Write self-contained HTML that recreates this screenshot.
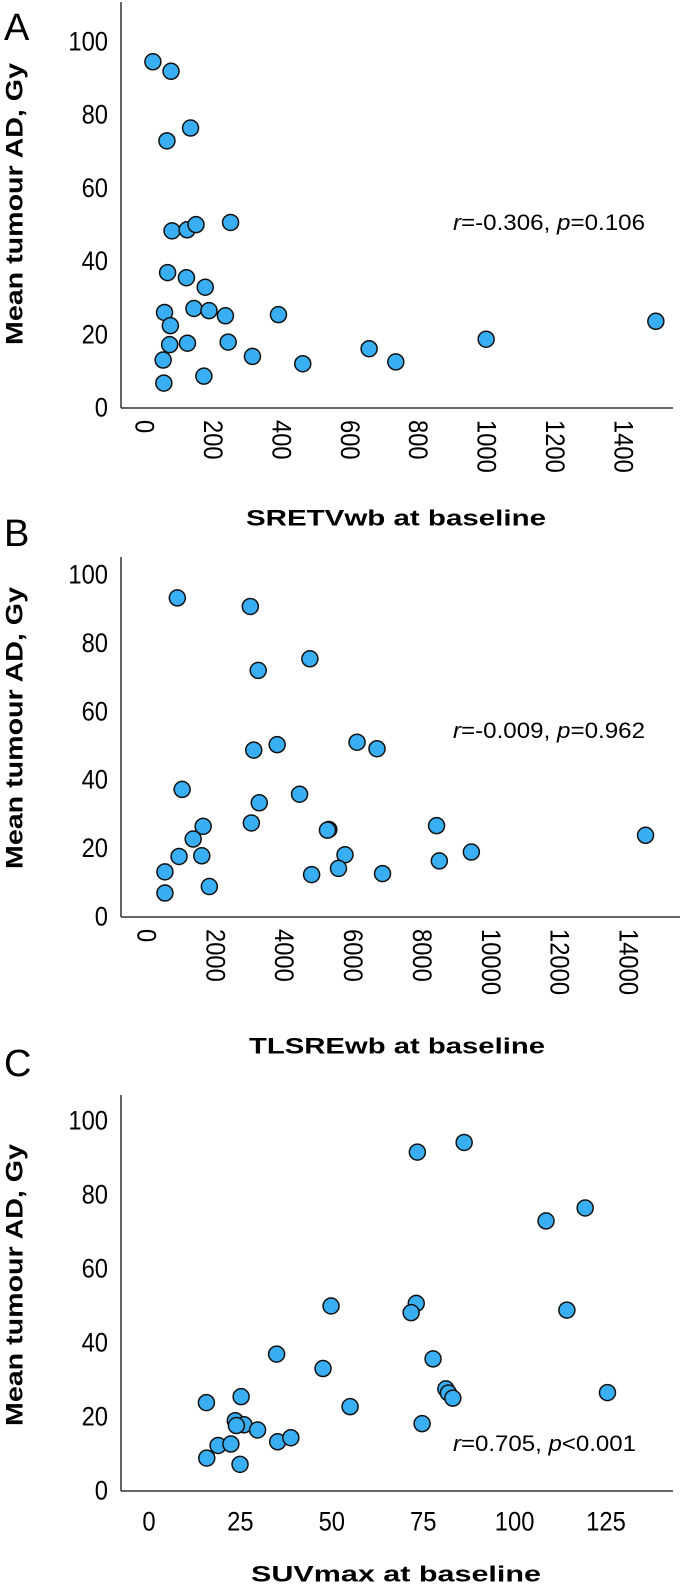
<!DOCTYPE html>
<html><head><meta charset="utf-8"><style>html,body{margin:0;padding:0;background:#fff}svg{display:block}</style></head>
<body>
<svg id="chart" width="685" height="1592" viewBox="0 0 685 1592" xmlns="http://www.w3.org/2000/svg" font-family="'Liberation Sans', sans-serif"></svg>
<script>
const yTicks = [0,20,40,60,80,100];
const aTicks = [0,200,400,600,800,1000,1200,1400];
const bTicks = [0,2000,4000,6000,8000,10000,12000,14000];
const cTicks = [0,25,50,75,100,125];
const aX = [26,79,67,136,82,126,152,253,69,124,179,60,77,146,190,238,393,75,127,246,56,58,175,317,464,658,736,1000,1496];
const aY = [94.6,92,73,76.5,48.4,48.7,50.1,50.7,37,35.6,33,26.1,22.5,27.2,26.6,25.2,25.5,17.3,17.7,18,13.1,6.8,8.7,14.1,12.1,16.2,12.6,18.8,23.7];
const bX = [910,3030,3260,4760,3130,3810,6130,6710,1050,4460,3290,3060,1660,8440,1370,5310,5270,960,1620,5780,9450,14510,550,550,1840,4810,5590,6870,8520];
const bY = [93.3,90.8,72.1,75.5,48.8,50.4,51.1,49.2,37.3,35.9,33.4,27.5,26.5,26.7,22.8,25.6,25.4,17.7,17.9,18.2,19,23.9,13.2,7,8.9,12.4,14.2,12.7,16.4];
const cX = [86.2,73.4,108.6,119.3,49.8,73.1,71.7,114.3,34.9,47.6,77.7,81.2,81.9,83.1,125.4,25.2,15.7,55,74.7,23.6,26,23.9,29.7,35.2,38.8,18.9,22.4,15.8,24.9];
const cY = [94.2,91.6,73,76.5,50,50.7,48.2,48.9,37,33.1,35.7,27.6,26.5,25.1,26.6,25.5,23.9,22.8,18.2,19,17.9,17.7,16.5,13.3,14.4,12.3,12.7,8.9,7.2];

const NS='http://www.w3.org/2000/svg';
const svg=document.getElementById('chart');
function mk(tag,attrs,parent,text){const e=document.createElementNS(NS,tag);for(const k in attrs)e.setAttribute(k,attrs[k]);if(text!==undefined)e.textContent=text;(parent||svg).appendChild(e);return e;}

function panel(o){
  const g=mk('g',{});
  
  
  const yS=v=>o.y0-(v/100)*(o.y0-o.y100);
  const xS=v=>o.x0+(v/o.xMax)*(o.x1-o.x0);
  const L=mk('text',{x:o.letterX,y:o.letterY,'font-size':38},g,o.letter);
  
  
  const ya=mk('line',{x1:121,y1:o.top,x2:121,y2:o.y0,stroke:'#333','stroke-width':1.5},g);
  
  
  const xa=mk('line',{x1:121,y1:o.y0,x2:o.right,y2:o.y0,stroke:'#333','stroke-width':1.5},g);
  
  
  yTicks.forEach(t=>{
    const e=mk('text',{x:108,y:yS(t),'font-size':27,'text-anchor':'end','dominant-baseline':'central',transform:`translate(108 0) scale(0.88 1) translate(-108 0)`},g,String(t));
    
    
  });
  o.ticks.forEach(t=>{
    let e;
    if(o.rot){
      const x=xS(t),y=o.y0+12;
      e=mk('text',{x:x,y:y,'font-size':27,'dominant-baseline':'central',transform:`rotate(90 ${x} ${y}) translate(${x} 0) scale(0.88 1) translate(${-x} 0)`},g,String(t));
    } else {
      const x=xS(t);
      e=mk('text',{x:x,y:o.y0+31,'font-size':27,'text-anchor':'middle','dominant-baseline':'central',transform:`translate(${x} 0) scale(0.88 1) translate(${-x} 0)`},g,String(t));
    }
    
    
  });
  const yt=mk('text',{x:0,y:0,'font-size':24,'font-weight':'bold','text-anchor':'middle','dominant-baseline':'central',textLength:282,lengthAdjust:'spacingAndGlyphs',transform:`translate(15 ${o.yTitleY}) rotate(-90)`},g,'Mean tumour AD, Gy');
  
  
  const xt=mk('text',{x:o.titleX,y:o.titleY,'font-size':22,'font-weight':'bold','text-anchor':'middle','dominant-baseline':'central',textLength:o.titleW,lengthAdjust:'spacingAndGlyphs'},g,o.title);
  
  
  const st=mk('text',{x:o.statX,y:o.statY,'font-size':22,'dominant-baseline':'central',textLength:o.statW,lengthAdjust:'spacingAndGlyphs'},g);
  
  
  mk('tspan',{'font-style':'italic'},st,'r');
  mk('tspan',{},st,o.stat1);
  mk('tspan',{'font-style':'italic'},st,'p');
  mk('tspan',{},st,o.stat2);
  o.xs.forEach((v,i)=>{
    const c=mk('circle',{cx:xS(v),cy:yS(o.ys[i]),r:8,fill:'#3aaef3',stroke:'#111','stroke-width':1.5},g);
    
    
  });
}

panel({id:'a',letter:'A',letterX:4,letterY:40,top:2,y0:408,y100:42,right:673,x0:144,x1:623,xMax:1400,ticks:aTicks,rot:true,
  xs:aX,ys:aY,yTitleY:204,title:'SRETVwb at baseline',titleX:396,titleY:518,titleW:300,
  statX:453,statY:222,statW:192,stat1:'=-0.306, ',stat2:'=0.106'});
panel({id:'b',letter:'B',letterX:4,letterY:546,top:557,y0:917,y100:575,right:680,x0:146,x1:628,xMax:14000,ticks:bTicks,rot:true,
  xs:bX,ys:bY,yTitleY:728,title:'TLSREwb at baseline',titleX:397,titleY:1046,titleW:296,
  statX:453,statY:730,statW:192,stat1:'=-0.009, ',stat2:'=0.962'});
panel({id:'c',letter:'C',letterX:4,letterY:1076,top:1095,y0:1491,y100:1121,right:673,x0:149,x1:606,xMax:125,ticks:cTicks,rot:false,
  xs:cX,ys:cY,yTitleY:1285,title:'SUVmax at baseline',titleX:396,titleY:1574,titleW:290,
  statX:453,statY:1443,statW:183,stat1:'=0.705, ',stat2:'<0.001'});
</script>
</body></html>
